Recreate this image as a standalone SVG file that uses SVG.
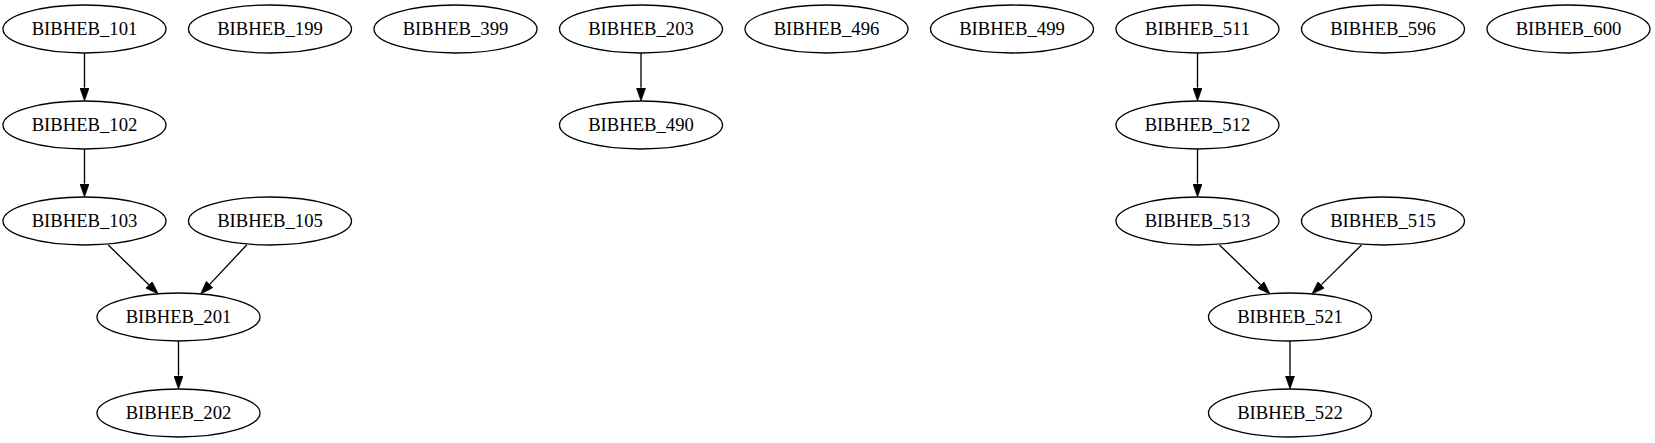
<svg xmlns="http://www.w3.org/2000/svg" width="1655" height="443" viewBox="0 0 1655 443">
<style>
.n ellipse{fill:none;stroke:#000;stroke-width:1.33}
.n text{font-family:"Liberation Serif","Times New Roman",serif;font-size:18.67px;text-anchor:middle;fill:#000}
.e path{fill:none;stroke:#000;stroke-width:1.33;marker-end:url(#ah)}
</style>
<defs>
<marker id="ah" markerUnits="userSpaceOnUse" viewBox="0 0 10 7" markerWidth="13.3" markerHeight="9.3" refX="0" refY="3.5" orient="auto">
<path d="M0,0 L10,3.5 L0,7 z" fill="#000" stroke="#000" stroke-width="0.5"/>
</marker>
</defs>
<rect width="1655" height="443" fill="#fff"/>
<g id="edges" class="e">
<path d="M84.5,53 L84.5,87.7"/>
<path d="M84.5,149 L84.5,183.7"/>
<path d="M108.3,245 L148.8,284.7"/>
<path d="M246.7,245 L209.7,284.4"/>
<path d="M178.5,341 L178.5,375.7"/>
<path d="M641,53 L641,87.7"/>
<path d="M1197.5,53 L1197.5,87.7"/>
<path d="M1197.5,149 L1197.5,183.7"/>
<path d="M1219.5,245 L1260.5,284.7"/>
<path d="M1361.5,245 L1321.4,284.6"/>
<path d="M1290,341 L1290,375.7"/>
</g>
<g id="BIBHEB_101" class="n"><ellipse cx="84.5" cy="29" rx="81.5" ry="24"/><text x="84.5" y="34.6">BIBHEB_101</text></g>
<g id="BIBHEB_199" class="n"><ellipse cx="270" cy="29" rx="81.5" ry="24"/><text x="270" y="34.6">BIBHEB_199</text></g>
<g id="BIBHEB_399" class="n"><ellipse cx="455.5" cy="29" rx="81.5" ry="24"/><text x="455.5" y="34.6">BIBHEB_399</text></g>
<g id="BIBHEB_203" class="n"><ellipse cx="641" cy="29" rx="81.5" ry="24"/><text x="641" y="34.6">BIBHEB_203</text></g>
<g id="BIBHEB_496" class="n"><ellipse cx="826.5" cy="29" rx="81.5" ry="24"/><text x="826.5" y="34.6">BIBHEB_496</text></g>
<g id="BIBHEB_499" class="n"><ellipse cx="1012" cy="29" rx="81.5" ry="24"/><text x="1012" y="34.6">BIBHEB_499</text></g>
<g id="BIBHEB_511" class="n"><ellipse cx="1197.5" cy="29" rx="81.5" ry="24"/><text x="1197.5" y="34.6">BIBHEB_511</text></g>
<g id="BIBHEB_596" class="n"><ellipse cx="1383" cy="29" rx="81.5" ry="24"/><text x="1383" y="34.6">BIBHEB_596</text></g>
<g id="BIBHEB_600" class="n"><ellipse cx="1568.5" cy="29" rx="81.5" ry="24"/><text x="1568.5" y="34.6">BIBHEB_600</text></g>
<g id="BIBHEB_102" class="n"><ellipse cx="84.5" cy="125" rx="81.5" ry="24"/><text x="84.5" y="130.6">BIBHEB_102</text></g>
<g id="BIBHEB_490" class="n"><ellipse cx="641" cy="125" rx="81.5" ry="24"/><text x="641" y="130.6">BIBHEB_490</text></g>
<g id="BIBHEB_512" class="n"><ellipse cx="1197.5" cy="125" rx="81.5" ry="24"/><text x="1197.5" y="130.6">BIBHEB_512</text></g>
<g id="BIBHEB_103" class="n"><ellipse cx="84.5" cy="221" rx="81.5" ry="24"/><text x="84.5" y="226.6">BIBHEB_103</text></g>
<g id="BIBHEB_105" class="n"><ellipse cx="270" cy="221" rx="81.5" ry="24"/><text x="270" y="226.6">BIBHEB_105</text></g>
<g id="BIBHEB_513" class="n"><ellipse cx="1197.5" cy="221" rx="81.5" ry="24"/><text x="1197.5" y="226.6">BIBHEB_513</text></g>
<g id="BIBHEB_515" class="n"><ellipse cx="1383" cy="221" rx="81.5" ry="24"/><text x="1383" y="226.6">BIBHEB_515</text></g>
<g id="BIBHEB_201" class="n"><ellipse cx="178.5" cy="317" rx="81.5" ry="24"/><text x="178.5" y="322.6">BIBHEB_201</text></g>
<g id="BIBHEB_521" class="n"><ellipse cx="1290" cy="317" rx="81.5" ry="24"/><text x="1290" y="322.6">BIBHEB_521</text></g>
<g id="BIBHEB_202" class="n"><ellipse cx="178.5" cy="413" rx="81.5" ry="24"/><text x="178.5" y="418.6">BIBHEB_202</text></g>
<g id="BIBHEB_522" class="n"><ellipse cx="1290" cy="413" rx="81.5" ry="24"/><text x="1290" y="418.6">BIBHEB_522</text></g>
</svg>
